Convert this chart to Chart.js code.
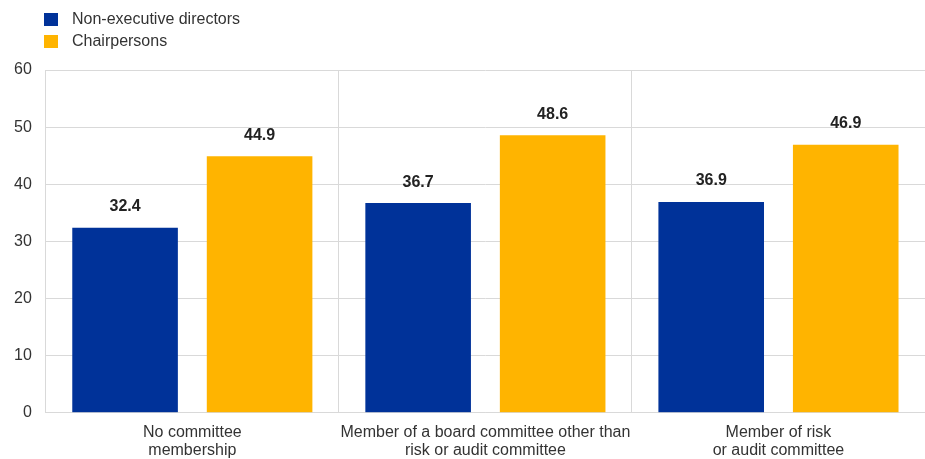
<!DOCTYPE html>
<html>
<head>
<meta charset="utf-8">
<script src="https://cdn.jsdelivr.net/npm/chart.js@4"></script>
<style>
  html, body { margin: 0; padding: 0; background: #fff; }
  #wrap { position: relative; width: 925px; height: 459px; }
  #legend { position: absolute; left: 44px; top: 8px; font: 16px "Liberation Sans", Arial, sans-serif; color: #333; }
  #legend div { height: 22px; line-height: 18px; display: flex; align-items: center; }
  #legend span.box { display: inline-block; width: 14px; height: 13px; margin-right: 14px; }
</style>
</head>
<body>
<div id="wrap">
  <div id="legend"></div>
  <canvas id="chart" width="925" height="459"></canvas>
</div>
<script>
/* committee membership vs. directors / chairpersons */
const categories = [
  ['No committee', 'membership'],
  ['Member of a board committee other than', 'risk or audit committee'],
  ['Member of risk', 'or audit committee']
];
const seriesNames = ['Non-executive directors', 'Chairpersons'];
const directors = [32.4, 36.7, 36.9];
const chairpersons = [44.9, 48.6, 46.9];
const yTicks = [0, 10, 20, 30, 40, 50, 60];

const colors = {
  blue: '#003299',
  yellow: '#ffb400',
  grid: '#d9d9d9',
  text: '#333333',
  label: '#222222'
};

const FONT = '"Liberation Sans", Arial, sans-serif';

// values above each bar
const valueLabels = {
  id: 'valueLabels',
  afterDatasetsDraw(chart) {
    const ctx = chart.ctx;
    ctx.save();
    ctx.font = 'bold 16px ' + FONT;
    ctx.fillStyle = colors.label;
    ctx.textAlign = 'center';
    ctx.textBaseline = 'middle';
    chart.data.datasets.forEach((ds, i) => {
      chart.getDatasetMeta(i).data.forEach((bar, j) => {
        ctx.fillText(ds.data[j].toFixed(1), bar.x, bar.y - 21);
      });
    });
    ctx.restore();
  }
};

const chart = new Chart(document.getElementById('chart'), {
  type: 'bar',
  data: {
    labels: categories,
    datasets: [
      { label: seriesNames[0], data: directors, backgroundColor: colors.blue },
      { label: seriesNames[1], data: chairpersons, backgroundColor: colors.yellow }
    ]
  },
  options: {
    responsive: false,
    animation: false,
    categoryPercentage: 0.918,
    barPercentage: 0.785,
    layout: { padding: { top: 70, left: 0, right: 0, bottom: -11 } },
    plugins: {
      legend: { display: false },
      tooltip: { enabled: false }
    },
    scales: {
      x: {
        grid: { color: colors.grid, lineWidth: 1, offset: true, drawTicks: false },
        border: { color: colors.grid },
        ticks: { color: colors.text, font: { family: FONT, size: 16, lineHeight: 1.1 }, padding: 11, maxRotation: 0 }
      },
      y: {
        min: 0,
        max: 60,
        afterBuildTicks: (axis) => { axis.ticks = yTicks.map(v => ({ value: v })); },
        grid: { color: colors.grid, drawTicks: false },
        border: { display: false },
        ticks: { color: colors.text, font: { family: FONT, size: 16 }, padding: 14 }
      }
    }
  },
  plugins: [valueLabels]
});

// html legend from the datasets
const legend = document.getElementById('legend');
chart.data.datasets.forEach(ds => {
  const row = document.createElement('div');
  const box = document.createElement('span');
  box.className = 'box';
  box.style.background = ds.backgroundColor;
  row.appendChild(box);
  row.appendChild(document.createTextNode(ds.label));
  legend.appendChild(row);
});
</script>
</body>
</html>
